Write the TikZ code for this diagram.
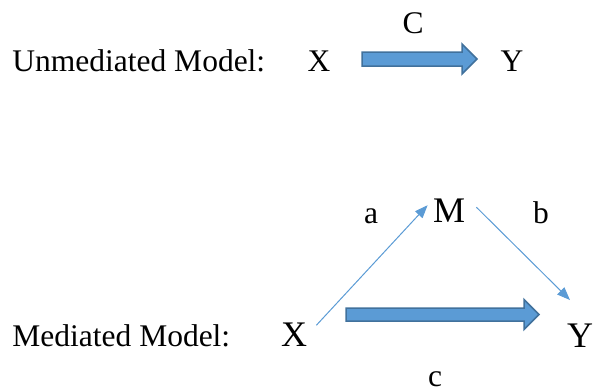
\documentclass[tikz,border=0pt]{standalone}
\usepackage{fontspec}
\setmainfont{Liberation Serif}
\usetikzlibrary{arrows.meta}

\definecolor{arrowfill}{HTML}{5B9BD5}
\definecolor{arrowline}{HTML}{41719C}

\tikzset{
  txt/.style={inner sep=0pt, anchor=base, font=\fontsize{15.75}{19}\selectfont},
  bigtxt/.style={txt, font=\fontsize{18}{22}\selectfont},
  blockarrow/.style={fill=arrowfill, draw=arrowline, line width=0.75pt, line join=miter},
  thinarrow/.style={draw=arrowfill, line width=0.5pt, -{Triangle[length=6.5pt, width=5pt]}}
}

% start x, tip x, middle y, half shaft, half head
\newcommand{\blockarrow}[5]{%
  \draw[blockarrow] (#1,#3-#4) -- (#2-#5,#3-#4) -- (#2-#5,#3-#5) -- (#2,#3)
    -- (#2-#5,#3+#5) -- (#2-#5,#3+#4) -- (#1,#3+#4) -- cycle;}

\begin{document}
\begin{tikzpicture}[x=0.5pt, y=-0.5pt]
  \useasboundingbox (0,0) rectangle (594,391);

  % unmediated
  \node[txt, anchor=base west] (unmed) at (12,71) {Unmediated Model:};
  \node[txt] (x1) at (319,71) {X};
  \node[txt] (y1) at (512,71) {Y};
  \node[txt] (lc) at (413,33) {C};
  \blockarrow{362}{477}{59}{7}{15}

  % mediated
  \node[txt, anchor=base west] (med) at (12,346) {Mediated Model:};
  \node[bigtxt] (x2) at (294,346) {X};
  \node[bigtxt] (m) at (449,222) {M};
  \node[bigtxt] (y2) at (580,347) {Y};
  \node[txt] (la) at (371,223) {a};
  \node[txt] (lb) at (541,223) {b};
  \node[txt] (lcc) at (435,386) {c};
  \draw[thinarrow] ([shift={(9,-9)}]x2.east) -- ([shift={(-5,-5)}]m.west);
  \draw[thinarrow] ([shift={(11,-3)}]m.east) -- ([shift={(-10,-23)}]y2.north);
  \blockarrow{346}{539}{314.5}{6.5}{15}
\end{tikzpicture}
\end{document}
